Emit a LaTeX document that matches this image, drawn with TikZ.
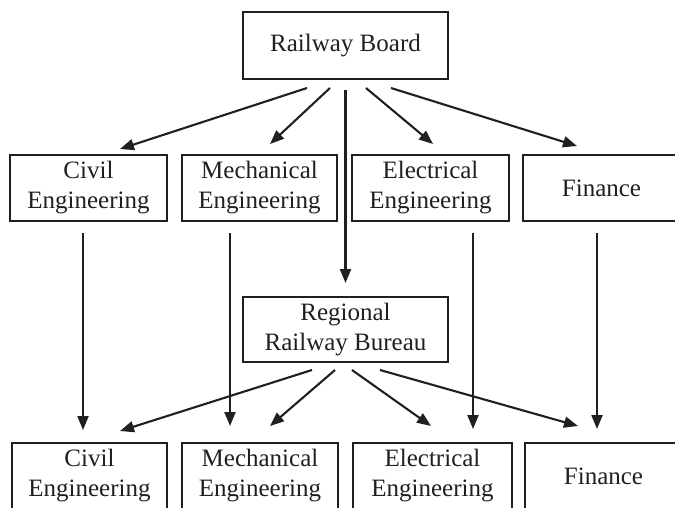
\documentclass[tikz,border=0pt]{standalone}
\usepackage{fontspec}
\setmainfont{Liberation Serif}
\usetikzlibrary{arrows.meta}
\definecolor{ink}{HTML}{231F20}
\begin{document}
\begin{tikzpicture}[x=1pt,y=-1pt,
  box/.style={draw=ink,text=ink,line width=1.5pt,inner sep=0pt,align=center,
              font=\fontsize{25}{30}\selectfont},
  arr/.style={draw=ink,line width=2.1pt,-{Triangle[length=14pt,width=11pt]}}]
\clip (0,0) rectangle (675,507);
\fill[white] (0,0) rectangle (675,507);
% nodes
\node[box,minimum width=205pt,minimum height=67pt] (rb) at (345.5,45.5) {Railway Board};
\node[box,minimum width=157pt,minimum height=66pt] (c1) at (88.5,188) {Civil\\Engineering};
\node[box,minimum width=155pt,minimum height=66pt] (m1) at (259.5,188) {Mechanical\\Engineering};
\node[box,minimum width=157pt,minimum height=66pt] (e1) at (430.5,188) {Electrical\\Engineering};
\node[box,minimum width=157pt,minimum height=66pt] (f1) at (601.5,188) {Finance};
\node[box,minimum width=205pt,minimum height=65pt] (rr) at (345.5,329.5) {Regional\\Railway Bureau};
\node[box,minimum width=155pt,minimum height=66pt] (c2) at (89.5,476) {Civil\\Engineering};
\node[box,minimum width=156pt,minimum height=66pt] (m2) at (260,476) {Mechanical\\Engineering};
\node[box,minimum width=159pt,minimum height=66pt] (e2) at (432.5,476) {Electrical\\Engineering};
\node[box,minimum width=157pt,minimum height=66pt] (f2) at (603.5,476) {Finance};
% connector end points
\coordinate (rbA) at (307,88);   \coordinate (c1T) at (120,149);
\coordinate (rbB) at (330,88);   \coordinate (m1T) at (270,144);
\coordinate (rbC) at (345.5,90); \coordinate (rrT) at (345.5,283);
\coordinate (rbD) at (366,88);   \coordinate (e1T) at (433,144);
\coordinate (rbE) at (391,88);   \coordinate (f1T) at (577,146);
\coordinate (c1B) at (83,233);   \coordinate (c2V) at (83,430);
\coordinate (m1B) at (230,233);  \coordinate (m2V) at (230,426);
\coordinate (e1B) at (473,233);  \coordinate (e2V) at (473,429);
\coordinate (f1B) at (597,233);  \coordinate (f2V) at (597,429);
\coordinate (rrA) at (312,370);  \coordinate (c2T) at (120,431);
\coordinate (rrB) at (335,370);  \coordinate (m2T) at (270,426);
\coordinate (rrC) at (352,370);  \coordinate (e2T) at (431,426);
\coordinate (rrD) at (380,370);  \coordinate (f2T) at (578,426);
% connectors
\draw[arr] (rbA) -- (c1T);
\draw[arr] (rbB) -- (m1T);
\draw[arr] (rbC) -- (rrT);
\draw[arr] (rbD) -- (e1T);
\draw[arr] (rbE) -- (f1T);
\draw[arr] (c1B) -- (c2V);
\draw[arr] (m1B) -- (m2V);
\draw[arr] (e1B) -- (e2V);
\draw[arr] (f1B) -- (f2V);
\draw[arr] (rrA) -- (c2T);
\draw[arr] (rrB) -- (m2T);
\draw[arr] (rrC) -- (e2T);
\draw[arr] (rrD) -- (f2T);
\end{tikzpicture}
\end{document}
